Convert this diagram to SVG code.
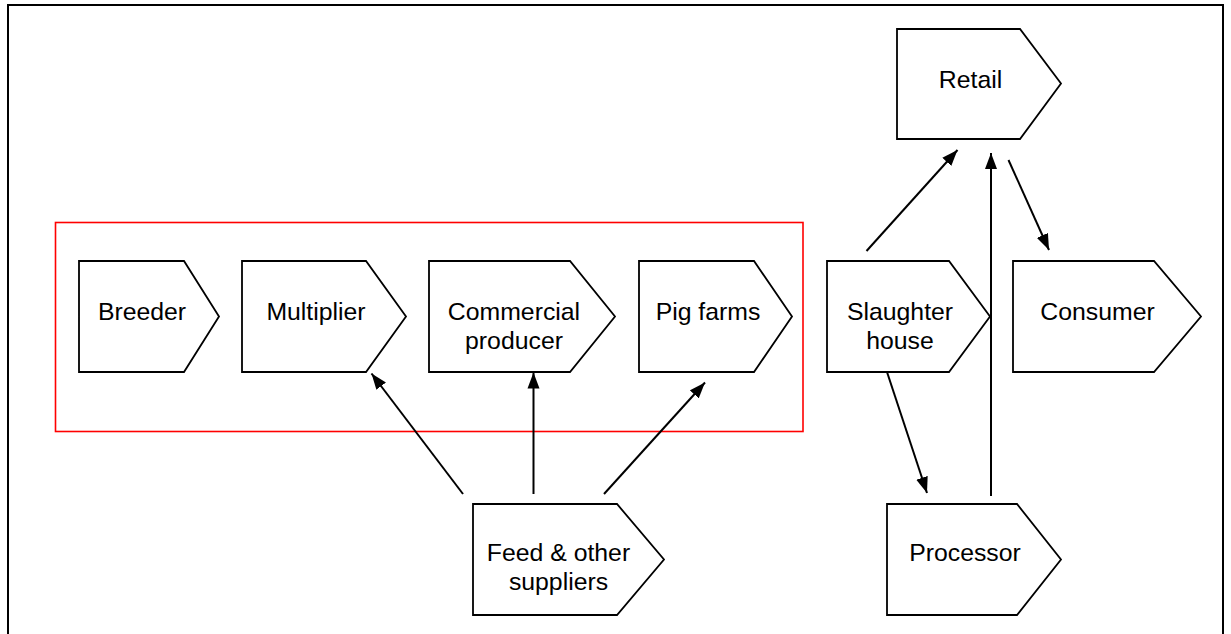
<svg xmlns="http://www.w3.org/2000/svg" width="1231" height="634" viewBox="0 0 1231 634">
<style>
.node polygon{fill:#fff;stroke:#000;stroke-width:1.8}
.node text{font-family:"Liberation Sans",Arial,sans-serif;font-size:24.8px;fill:#000;text-anchor:middle}
.conn line{stroke:#000;stroke-width:2;marker-end:url(#ah)}
</style>
<defs>
<marker id="ah" markerUnits="userSpaceOnUse" markerWidth="17" markerHeight="13" refX="16" refY="6.5" orient="auto">
<path d="M0,0.5 L16,6.5 L0,12.5 z" fill="#000"/>
</marker>
</defs>
<rect x="0" y="0" width="1231" height="634" fill="#fff"/>
<rect id="frame" x="8" y="5" width="1215" height="640" fill="none" stroke="#000" stroke-width="2"/>
<rect id="group-box" x="55.5" y="222.5" width="747.5" height="209" fill="none" stroke="#f00" stroke-width="1.6"/>
<g class="conn" id="connectors">
<line x1="463" y1="494" x2="371.5" y2="373.5"/>
<line x1="533.5" y1="494" x2="533.5" y2="372.5"/>
<line x1="604" y1="494" x2="705" y2="382.5"/>
<line x1="866.5" y1="251" x2="957.5" y2="150"/>
<line x1="991" y1="496" x2="991" y2="153"/>
<line x1="1008.5" y1="160" x2="1049" y2="250"/>
<line x1="887" y1="372" x2="927" y2="493"/>
</g>
<g class="node" id="breeder">
<polygon points="79,261 184,261 219,316.5 184,372 79,372"/>
<text x="142" y="320">Breeder</text>
</g>
<g class="node" id="multiplier">
<polygon points="242,261 366,261 406,316.5 366,372 242,372"/>
<text x="316" y="320">Multiplier</text>
</g>
<g class="node" id="commercial">
<polygon points="429,261 570,261 615,316.5 570,372 429,372"/>
<text x="514" y="320">Commercial</text>
<text x="514" y="348.5">producer</text>
</g>
<g class="node" id="pigfarms">
<polygon points="639,261 754,261 792,316.5 754,372 639,372"/>
<text x="708" y="320">Pig farms</text>
</g>
<g class="node" id="retail">
<polygon points="897,29 1020,29 1061,83.5 1020,139 897,139"/>
<text x="970.5" y="88">Retail</text>
</g>
<g class="node" id="slaughter">
<polygon points="827,261 949,261 990,316.5 949,372 827,372"/>
<text x="900" y="320">Slaughter</text>
<text x="900" y="348.5">house</text>
</g>
<g class="node" id="consumer">
<polygon points="1013,261 1154,261 1201,316.5 1154,372 1013,372"/>
<text x="1097.5" y="320">Consumer</text>
</g>
<g class="node" id="feed">
<polygon points="473,504 617,504 664,559.5 617,615 473,615"/>
<text x="558.5" y="561">Feed &amp; other</text>
<text x="558.5" y="590">suppliers</text>
</g>
<g class="node" id="processor">
<polygon points="887,504 1017,504 1061,559.5 1017,615 887,615"/>
<text x="965" y="561">Processor</text>
</g>
</svg>
